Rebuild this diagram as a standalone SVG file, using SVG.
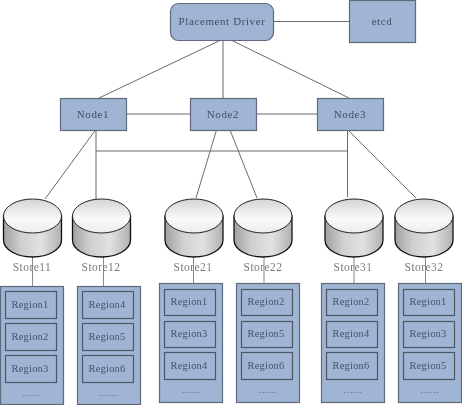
<svg xmlns="http://www.w3.org/2000/svg" width="462" height="406" viewBox="0 0 462 406">
<style>
.box{fill:#a0b5d3;stroke:#5f6b7c;stroke-width:1.2}
.reg{fill:#a0b5d3;stroke:#4e5866;stroke-width:1.2}
.pan{fill:#a0b5d3;stroke:#5f6b7c;stroke-width:1.2}
.c line{stroke:#6a6a6a;stroke-width:1}
text{font-family:"Liberation Serif","DejaVu Serif",serif;text-anchor:middle}
.n{font-size:11px;letter-spacing:.6px;fill:#3f4f63}
.r{font-size:10.5px;letter-spacing:.2px;fill:#43556c}
.s{font-size:11.5px;letter-spacing:.45px;fill:#7a7a7a}
.d{font-size:9px;letter-spacing:.8px;fill:#36465a}
</style>
<defs>
<filter id="soft" x="0" y="0" width="100%" height="100%"><feGaussianBlur stdDeviation="0.3"/></filter>
<linearGradient id="side" x1="0" y1="0" x2="1" y2="0"><stop offset="0" stop-color="#a0a0a0"/><stop offset=".3" stop-color="#cfcfcf"/><stop offset=".65" stop-color="#e2e2e2"/><stop offset="1" stop-color="#b0b0b0"/></linearGradient>
<linearGradient id="top" x1="0" y1="0" x2="0" y2="1"><stop offset="0" stop-color="#d4d4d4"/><stop offset=".6" stop-color="#fafafa"/><stop offset="1" stop-color="#ececec"/></linearGradient>
<g id="cyl">
<path d="M0 17V41A29 17 0 0 0 58 41V17Z" fill="url(#side)" stroke="#111" stroke-width="1.3"/>
<ellipse cx="29" cy="17" rx="29" ry="17" fill="url(#top)" stroke="#222" stroke-width="1"/>
</g>
</defs>
<rect width="462" height="406" fill="#fff"/>
<g filter="url(#soft)">
<g id="connectors" class="c">
<line x1="221" y1="40" x2="99" y2="98"/>
<line x1="223" y1="40" x2="223" y2="98"/>
<line x1="231" y1="40" x2="349" y2="98"/>
<line x1="273" y1="21.5" x2="349" y2="21.5"/>
<line x1="126" y1="114" x2="190" y2="114"/>
<line x1="256" y1="114" x2="317" y2="114"/>
<line x1="95.5" y1="130" x2="45" y2="199"/>
<line x1="96" y1="130" x2="96" y2="199"/>
<line x1="96" y1="151" x2="347.5" y2="151"/>
<line x1="216.5" y1="130" x2="196" y2="198"/>
<line x1="230" y1="130" x2="257" y2="198"/>
<line x1="347.5" y1="130" x2="347.5" y2="197"/>
<line x1="348" y1="130" x2="416" y2="198"/>
<line x1="32.5" y1="257" x2="32.5" y2="286" stroke-opacity=".8"/>
<line x1="103.5" y1="257" x2="103.5" y2="286" stroke-opacity=".8"/>
<line x1="193.5" y1="257" x2="193.5" y2="283" stroke-opacity=".8"/>
<line x1="264" y1="257" x2="264" y2="283" stroke-opacity=".8"/>
<line x1="354" y1="257" x2="354" y2="283" stroke-opacity=".8"/>
<line x1="425.5" y1="257" x2="425.5" y2="283" stroke-opacity=".8"/>
</g>
<g id="placement-driver"><rect class="box" x="170.5" y="3.5" width="103" height="37" rx="8"/><text class="n" x="222" y="25">Placement Driver</text></g>
<g id="etcd"><rect class="box" x="349.5" y="0.5" width="66" height="42"/><text class="n" x="382" y="25">etcd</text></g>
<g id="node1"><rect class="box" x="60.5" y="98.5" width="66" height="32"/><text class="n" x="93" y="118">Node1</text></g>
<g id="node2"><rect class="box" x="190.5" y="98.5" width="66" height="32"/><text class="n" x="223" y="118">Node2</text></g>
<g id="node3"><rect class="box" x="317.5" y="98.5" width="66" height="32"/><text class="n" x="350" y="118">Node3</text></g>
<g id="store11"><use href="#cyl" x="3.5" y="199"/><text class="s" x="32" y="271">Store11</text></g>
<g id="store12"><use href="#cyl" x="72.5" y="199"/><text class="s" x="101" y="271">Store12</text></g>
<g id="store21"><use href="#cyl" x="165" y="199"/><text class="s" x="193" y="271">Store21</text></g>
<g id="store22"><use href="#cyl" x="234" y="199"/><text class="s" x="263" y="271">Store22</text></g>
<g id="store31"><use href="#cyl" x="325" y="199"/><text class="s" x="353" y="271">Store31</text></g>
<g id="store32"><use href="#cyl" x="395" y="199"/><text class="s" x="424" y="271">Store32</text></g>
<g id="panel11"><rect class="pan" x="0.5" y="286.5" width="63" height="118"/>
<rect class="reg" x="5.5" y="291.5" width="51" height="27"/><text class="r" x="30" y="308">Region1</text>
<rect class="reg" x="5.5" y="323.5" width="51" height="27"/><text class="r" x="30" y="340">Region2</text>
<rect class="reg" x="5.5" y="355.5" width="51" height="27"/><text class="r" x="30" y="372">Region3</text>
<text class="d" x="32" y="396">......</text></g>
<g id="panel12"><rect class="pan" x="77.5" y="286.5" width="63" height="118"/>
<rect class="reg" x="82.5" y="291.5" width="51" height="27"/><text class="r" x="107" y="308">Region4</text>
<rect class="reg" x="82.5" y="323.5" width="51" height="27"/><text class="r" x="107" y="340">Region5</text>
<rect class="reg" x="82.5" y="355.5" width="51" height="27"/><text class="r" x="107" y="372">Region6</text>
<text class="d" x="109" y="396">......</text></g>
<g id="panel21"><rect class="pan" x="159.5" y="283.5" width="63" height="119"/>
<rect class="reg" x="164.5" y="289.5" width="51" height="26"/><text class="r" x="189" y="305">Region1</text>
<rect class="reg" x="164.5" y="321.5" width="51" height="26"/><text class="r" x="189" y="337">Region3</text>
<rect class="reg" x="164.5" y="352.5" width="51" height="27"/><text class="r" x="189" y="369">Region4</text>
<text class="d" x="191" y="393">......</text></g>
<g id="panel22"><rect class="pan" x="236.5" y="283.5" width="63" height="119"/>
<rect class="reg" x="241.5" y="289.5" width="51" height="26"/><text class="r" x="266" y="305">Region2</text>
<rect class="reg" x="241.5" y="321.5" width="51" height="26"/><text class="r" x="266" y="337">Region5</text>
<rect class="reg" x="241.5" y="352.5" width="51" height="27"/><text class="r" x="266" y="369">Region6</text>
<text class="d" x="268" y="393">......</text></g>
<g id="panel31"><rect class="pan" x="321.5" y="283.5" width="63" height="119"/>
<rect class="reg" x="326.5" y="289.5" width="51" height="26"/><text class="r" x="351" y="305">Region2</text>
<rect class="reg" x="326.5" y="321.5" width="51" height="26"/><text class="r" x="351" y="337">Region4</text>
<rect class="reg" x="326.5" y="352.5" width="51" height="27"/><text class="r" x="351" y="369">Region6</text>
<text class="d" x="353" y="393">......</text></g>
<g id="panel32"><rect class="pan" x="398.5" y="283.5" width="63" height="119"/>
<rect class="reg" x="403.5" y="289.5" width="51" height="26"/><text class="r" x="428" y="305">Region1</text>
<rect class="reg" x="403.5" y="321.5" width="51" height="26"/><text class="r" x="428" y="337">Region3</text>
<rect class="reg" x="403.5" y="352.5" width="51" height="27"/><text class="r" x="428" y="369">Region5</text>
<text class="d" x="430" y="393">......</text></g>
</g>
</svg>
